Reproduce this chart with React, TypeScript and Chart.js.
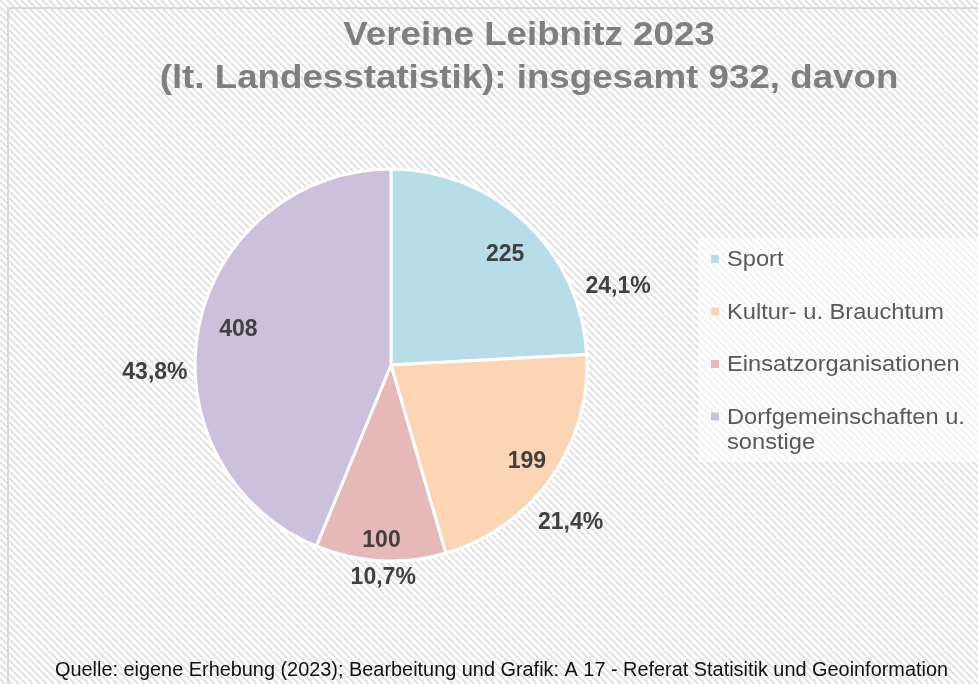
import React, { useEffect, useRef } from "react";
import { Chart, registerables } from "chart.js";

Chart.register(...registerables);

const categories = ["Sport", "Kultur- u. Brauchtum", "Einsatzorganisationen", "Dorfgemeinschaften u. sonstige"];
const legendLines = [["Sport"], ["Kultur- u. Brauchtum"], ["Einsatzorganisationen"], ["Dorfgemeinschaften u.", "sonstige"]];
const values = [225, 199, 100, 408];
const percentLabels = ["24,1%", "21,4%", "10,7%", "43,8%"];
const colors = ["#B7DEE8", "#FCD5B5", "#E6B9B8", "#CCC1DA"];
const titleLines = ["Vereine Leibnitz 2023", "(lt. Landesstatistik): insgesamt 932, davon"];
const sourceText = "Quelle: eigene Erhebung (2023); Bearbeitung und Grafik: A 17 - Referat Statisitik und Geoinformation";

const FONT = '"Liberation Sans", Arial, sans-serif';

function makePattern(ctx: CanvasRenderingContext2D) {
  const s = 7;
  const c = document.createElement("canvas");
  c.width = s;
  c.height = s;
  const p = c.getContext("2d")!;
  p.fillStyle = "#ffffff";
  p.fillRect(0, 0, s, s);
  p.strokeStyle = "#e2e2e2";
  p.lineWidth = 2.2;
  for (const o of [-s, 0, s]) {
    p.beginPath();
    p.moveTo(o, 0);
    p.lineTo(o + s, s);
    p.stroke();
  }
  return ctx.createPattern(c, "repeat");
}

function drawScaled(ctx: CanvasRenderingContext2D, text: string, x: number, y: number, sx: number, align: CanvasTextAlign) {
  ctx.save();
  ctx.translate(x, y);
  ctx.scale(sx, 1);
  ctx.textAlign = align;
  ctx.fillText(text, 0, 0);
  ctx.restore();
}

const decorPlugin = {
  id: "decor",
  beforeDraw(chart: any) {
    const ctx: CanvasRenderingContext2D = chart.ctx;
    const w = chart.width, h = chart.height;
    ctx.save();
    ctx.fillStyle = makePattern(ctx) || "#fff";
    ctx.fillRect(0, 0, w, h);
    ctx.strokeStyle = "#d9d9d9";
    ctx.lineWidth = 2;
    ctx.strokeRect(8, 8, w + 20, h + 20);
    // legend backdrop
    ctx.fillStyle = "rgba(255,255,255,0.6)";
    ctx.fillRect(698, 238, 290, 224);
    ctx.restore();
  },
  afterDraw(chart: any, _args: any, opts: any) {
    const ctx: CanvasRenderingContext2D = chart.ctx;
    ctx.save();
    // title
    ctx.fillStyle = "#7f7f7f";
    ctx.font = `bold 34px ${FONT}`;
    ctx.textBaseline = "alphabetic";
    titleLines.forEach((t, i) => drawScaled(ctx, t, 529, 45 + i * 43, 1.08, "center"));

    // data labels
    const meta = chart.getDatasetMeta(0);
    ctx.fillStyle = "#404040";
    ctx.font = `bold 23px ${FONT}`;
    ctx.textBaseline = "middle";
    ctx.textAlign = "center";
    meta.data.forEach((arc: any, i: number) => {
      const { x, y, startAngle, endAngle, outerRadius } = arc.getProps(["x", "y", "startAngle", "endAngle", "outerRadius"], true);
      const mid = (startAngle + endAngle) / 2;
      const vr = opts.valueRadius[i] * outerRadius;
      const va = mid + (opts.valueShift[i] * Math.PI) / 180;
      ctx.fillText(String(values[i]), x + Math.cos(va) * vr, y + Math.sin(va) * vr);
      const pr = opts.pctRadius[i] * outerRadius;
      const pa = mid + (opts.pctShift[i] * Math.PI) / 180;
      ctx.fillText(percentLabels[i], x + Math.cos(pa) * pr, y + Math.sin(pa) * pr);
    });

    // legend
    ctx.textBaseline = "alphabetic";
    ctx.font = `21.5px ${FONT}`;
    let yb = 266;
    legendLines.forEach((lines, i) => {
      ctx.fillStyle = colors[i];
      ctx.fillRect(711, yb - 11, 8, 8);
      ctx.fillStyle = "#595959";
      lines.forEach((l, j) => drawScaled(ctx, l, 727, yb + j * 25.5, 1.1, "left"));
      yb += 52.5;
    });

    // source
    ctx.fillStyle = "#111111";
    ctx.font = `20.5px ${FONT}`;
    const mw = ctx.measureText(sourceText).width;
    drawScaled(ctx, sourceText, 501.5, 676, 893 / mw, "center");
    ctx.restore();
  },
};

export default function App() {
  const ref = useRef<HTMLCanvasElement>(null);
  useEffect(() => {
    document.body.style.margin = "0";
    const chart = new Chart(ref.current!, {
      type: "pie",
      data: {
        labels: categories,
        datasets: [
          {
            data: values,
            backgroundColor: colors,
            borderColor: "#ffffff",
            borderWidth: 3,
            hoverBorderWidth: 3,
            hoverOffset: 0,
          },
        ],
      },
      options: {
        responsive: false,
        animation: false,
        devicePixelRatio: 1,
        events: [],
        layout: { padding: { left: 193.5, top: 167.5, right: 389.5, bottom: 121.5 } },
        plugins: {
          legend: { display: false },
          title: { display: false },
          tooltip: { enabled: false },
          decor: {
            valueRadius: [0.81, 0.85, 0.9, 0.8],
            valueShift: [2.5, 0, 0, 2],
            pctRadius: [1.225, 1.22, 1.087, 1.205],
            pctShift: [27.6, 6, -1, -13],
          },
        } as any,
      },
      plugins: [decorPlugin],
    });
    return () => chart.destroy();
  }, []);
  return (
    <div style={{ position: "absolute", left: 0, top: 0, width: 978, height: 684 }}>
      <canvas ref={ref} width={978} height={684} style={{ display: "block", width: 978, height: 684 }} />
    </div>
  );
}
